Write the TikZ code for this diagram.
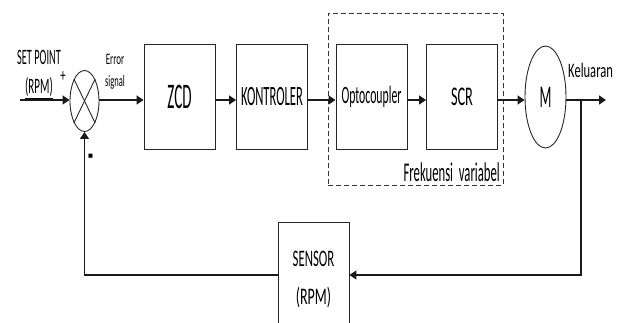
\documentclass[tikz,border=0pt]{standalone}
\usepackage{fontspec}
\setmainfont{Carlito}
\usepackage{graphicx}
\usetikzlibrary{arrows.meta,shapes.geometric}
\newcommand\ctxt[3]{\scalebox{#2}[1]{\fontsize{#1}{#1}\selectfont #3}}
\begin{document}
\begin{tikzpicture}[x=1pt,y=-1pt,
  blk/.style={draw=black!85, line width=0.9pt, minimum width=71pt, minimum height=105pt, inner sep=0pt},
  arr/.style={line width=1.6pt, draw=black!90, -{Triangle[length=7pt,width=9pt]}},
  fbarr/.style={line width=1.2pt, draw=black!90, -{Triangle[length=7pt,width=9pt]}},
  fbline/.style={line width=1.2pt, draw=black!90},
  lbl/.style={inner sep=0pt, anchor=base},
  ell/.style={ellipse, draw=black!85, line width=0.9pt, inner sep=0pt}
]
\useasboundingbox (0,0) rectangle (619,323);
\clip (0,0) rectangle (619,323);

% dashed group
\node[draw=black!80, dashed, dash pattern=on 5pt off 3pt, line width=0.8pt,
      minimum width=175pt, minimum height=172pt, inner sep=0pt] (fv) at (415.5,99) {};

% summing junction
\node[ell, minimum width=29pt, minimum height=61pt] (sum) at (84.5,101) {};
\draw[black!85, line width=0.9pt] (sum.north west) -- (sum.south east);
\draw[black!85, line width=0.9pt] (sum.north east) -- (sum.south west);

% blocks
\node[blk] (zcd) at (179.5,96.5) {\ctxt{36}{0.42}{ZCD}};
\node[blk] (kon) at (272,96.5) {\ctxt{28}{0.45}{KONTROLER}};
\node[blk] (opt) at (371.5,97) {\ctxt{25}{0.47}{Optocoupler}};
\node[blk] (scr) at (462,97) {\ctxt{27}{0.53}{SCR}};
\node[ell, minimum width=41pt, minimum height=102pt] (m) at (545.5,97) {\ctxt{31.6}{0.44}{M}};
\node[blk, minimum height=106pt] (sensor) at (313.5,275) {};

% texts
\node[lbl] (tsp) at (39,65) {\ctxt{22}{0.47}{SET POINT}};
\node[lbl] (trpm) at (39,94) {\ctxt{22}{0.5}{\underline{(RPM)}}};
\node[lbl] (tplus) at (63,82) {\ctxt{18}{0.6}{+}};
\node[lbl] (terr) at (115,65) {\ctxt{16}{0.56}{Error}};
\node[lbl] (tsig) at (115,87) {\ctxt{16}{0.53}{signal}};
\node[lbl] (tminus) at (90.5,168) {\scalebox{0.9}[2.2]{\fontsize{18}{18}\selectfont\bfseries -}};
\node[lbl, anchor=base west] (tout) at (568,78) {\ctxt{20.6}{0.61}{Keluaran}};
\node[lbl, anchor=base east] (tfv) at (500,182) {\ctxt{27}{0.47}{Frekuensi\ \ variabel}};
\node[lbl] (tsen1) at (313.5,267) {\ctxt{23.7}{0.54}{SENSOR}};
\node[lbl] (tsen2) at (313.5,305) {\ctxt{23.7}{0.59}{(RPM)}};

% connectors
\coordinate (sp) at (20,100);
\coordinate (out) at (606,100);
\coordinate (br) at (581,100);
\draw[arr] (sp) -- (sp -| sum.west);
\draw[arr] (sum.east |- sp) -- (sp -| zcd.west);
\draw[arr] (zcd.east |- sp) -- (sp -| kon.west);
\draw[arr] (kon.east |- sp) -- (sp -| opt.west);
\draw[arr] (opt.east |- sp) -- (sp -| scr.west);
\draw[arr] (scr.east |- sp) -- (sp -| m.west);
\draw[arr] (m.east |- sp) -- (out);
\draw[fbarr] (br) |- (sensor.east);
\draw[fbarr] (sensor.west) -| (sum.south);
\end{tikzpicture}
\end{document}
